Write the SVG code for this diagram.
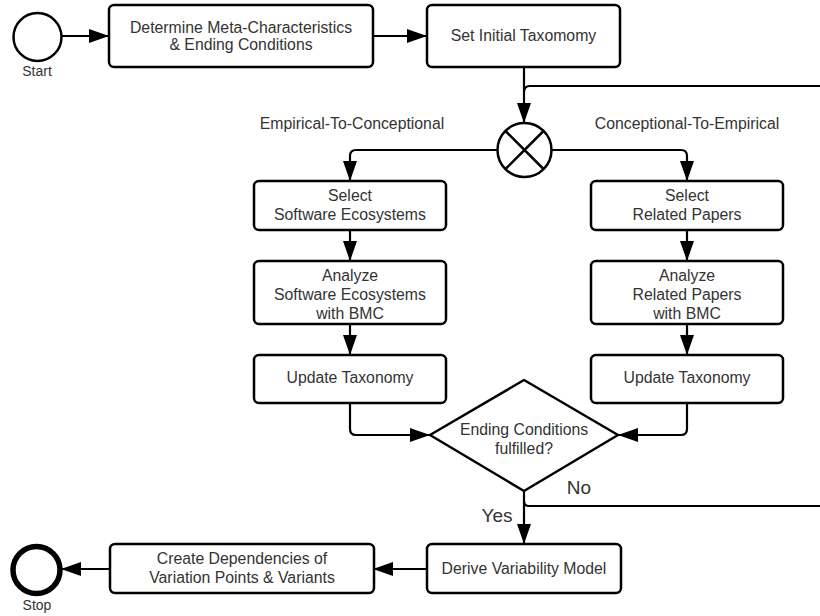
<svg xmlns="http://www.w3.org/2000/svg" width="820" height="616" viewBox="0 0 820 616">
  <style>
    .box { fill: #ffffff; stroke: #000000; stroke-width: 2.5; }
    .ev { fill: #ffffff; stroke: #000000; }
    .t { font-family: "Liberation Sans", Arial, sans-serif; font-size: 15.8px; fill: #333333; text-anchor: middle; }
    .lbl { font-family: "Liberation Sans", Arial, sans-serif; font-size: 14px; fill: #333333; text-anchor: middle; }
    .big { font-family: "Liberation Sans", Arial, sans-serif; font-size: 19px; fill: #333333; text-anchor: middle; }
    .c { fill: none; stroke: #000000; stroke-width: 2.2; }
  </style>
  <defs>
    <marker id="arr" viewBox="0 0 20 14" refX="20" refY="7" markerWidth="20" markerHeight="14" markerUnits="userSpaceOnUse" orient="auto">
      <path d="M0,0 L20,7 L0,14 Z" fill="#000000"/>
    </marker>
  </defs>
  <rect width="820" height="616" fill="#ffffff"/>

  <g id="connectors">
    <path class="c" d="M62,36 H109" marker-end="url(#arr)"/>
    <path class="c" d="M373,36 H427" marker-end="url(#arr)"/>
    <path class="c" d="M524,67 V123" marker-end="url(#arr)"/>
    <path class="c" d="M820,86 H530 Q524,86 524,92"/>
    <path class="c" d="M497,150 H356 Q350,150 350,156 V181" marker-end="url(#arr)"/>
    <path class="c" d="M551,150 H681 Q687,150 687,156 V181" marker-end="url(#arr)"/>
    <path class="c" d="M350,230 V261" marker-end="url(#arr)"/>
    <path class="c" d="M687,230 V261" marker-end="url(#arr)"/>
    <path class="c" d="M350,324 V355" marker-end="url(#arr)"/>
    <path class="c" d="M687,324 V355" marker-end="url(#arr)"/>
    <path class="c" d="M350,403 V429 Q350,435 356,435 H430" marker-end="url(#arr)"/>
    <path class="c" d="M687,403 V429 Q687,435 681,435 H618" marker-end="url(#arr)"/>
    <path class="c" d="M524,491 V544" marker-end="url(#arr)"/>
    <path class="c" d="M524,501 Q524,506 529,506 H820"/>
    <path class="c" d="M428,569 H373" marker-end="url(#arr)"/>
    <path class="c" d="M109,569 H61" marker-end="url(#arr)"/>
    <text class="big" x="579" y="494">No</text>
    <text class="big" x="497" y="522">Yes</text>
    <text class="t" x="352" y="129">Empirical-To-Conceptional</text>
    <text class="t" x="687" y="129">Conceptional-To-Empirical</text>
  </g>

  <g id="start">
    <circle class="ev" cx="37.5" cy="37" r="24" stroke-width="2.5"/>
    <text class="lbl" x="37" y="76">Start</text>
  </g>

  <g id="meta">
    <rect class="box" x="109" y="5" width="264" height="62" rx="5"/>
    <text class="t" x="241" y="33">Determine Meta-Characteristics</text>
    <text class="t" x="241" y="50">&amp; Ending Conditions</text>
  </g>

  <g id="initial">
    <rect class="box" x="427" y="5" width="193" height="62" rx="5"/>
    <text class="t" x="523.5" y="41">Set Initial Taxomomy</text>
  </g>

  <g id="gateway">
    <circle class="ev" cx="524.5" cy="150" r="27" stroke-width="2.5"/>
    <path d="M505.5,131 L543.5,169 M543.5,131 L505.5,169" stroke="#000000" stroke-width="2.5"/>
  </g>

  <g id="select-eco">
    <rect class="box" x="254" y="181" width="192" height="49" rx="5"/>
    <text class="t" x="350" y="201">Select</text>
    <text class="t" x="350" y="220">Software Ecosystems</text>
  </g>

  <g id="analyze-eco">
    <rect class="box" x="254" y="261" width="192" height="63" rx="5"/>
    <text class="t" x="350" y="281">Analyze</text>
    <text class="t" x="350" y="300">Software Ecosystems</text>
    <text class="t" x="350" y="319">with BMC</text>
  </g>

  <g id="update-eco">
    <rect class="box" x="254" y="355" width="192" height="48" rx="5"/>
    <text class="t" x="350" y="383">Update Taxonomy</text>
  </g>

  <g id="select-papers">
    <rect class="box" x="591" y="181" width="192" height="49" rx="5"/>
    <text class="t" x="687" y="201">Select</text>
    <text class="t" x="687" y="220">Related Papers</text>
  </g>

  <g id="analyze-papers">
    <rect class="box" x="591" y="261" width="192" height="63" rx="5"/>
    <text class="t" x="687" y="281">Analyze</text>
    <text class="t" x="687" y="300">Related Papers</text>
    <text class="t" x="687" y="319">with BMC</text>
  </g>

  <g id="update-papers">
    <rect class="box" x="591" y="355" width="192" height="48" rx="5"/>
    <text class="t" x="687" y="383">Update Taxonomy</text>
  </g>

  <g id="decision">
    <path class="box" d="M524,380 L618,435 L524,491 L430,435 Z" stroke-linejoin="round"/>
    <text class="t" x="524" y="435">Ending Conditions</text>
    <text class="t" x="524" y="454">fulfilled?</text>
  </g>

  <g id="derive">
    <rect class="box" x="427" y="544" width="194" height="49" rx="5"/>
    <text class="t" x="524" y="574">Derive Variability Model</text>
  </g>

  <g id="dependencies">
    <rect class="box" x="110" y="544" width="264" height="49" rx="5"/>
    <text class="t" x="242" y="564">Create Dependencies of</text>
    <text class="t" x="242" y="583">Variation Points &amp; Variants</text>
  </g>

  <g id="stop">
    <circle class="ev" cx="36.5" cy="570" r="23.5" stroke-width="5.5"/>
    <text class="lbl" x="37" y="610">Stop</text>
  </g>
</svg>
